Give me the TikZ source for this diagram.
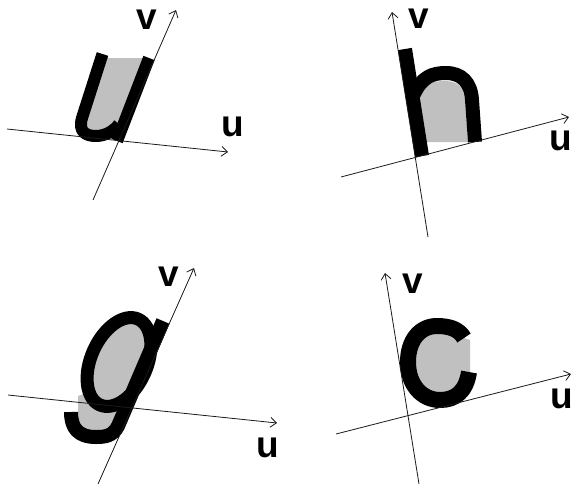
\documentclass[tikz,border=0pt]{standalone}
\usepackage{fontspec}
\setmainfont{Liberation Sans}
\usetikzlibrary{arrows.meta}
\definecolor{glyphfill}{HTML}{C0C0C0}
\definecolor{axisline}{HTML}{1A1A1A}
\newcommand{\axisname}[1]{\textbf{#1}}

\begin{document}
\begin{tikzpicture}[x=1pt, y=-1pt,
    axis/.style={draw=axisline, line width=0.8pt, -{Straight Barb[length=6pt, width=10pt]}},
    axislbl/.style={inner sep=0pt, font=\fontsize{37}{37}\selectfont},
    glyph/.style={draw=black, line width=#1, line join=round},
    bowl/.style={fill=glyphfill}]
    \path[use as bounding box, fill=white] (0,0) rectangle (572,493);

    % letter u
    \fill[bowl] (101,58) -- (149,58) -- (119,124) .. controls (115,130) and (106,136) .. (96,136)
        .. controls (86,136) and (79,132) .. (82,118) -- cycle;
    \draw[glyph=12pt] (102.5,54) -- (82,118) .. controls (78,132) and (86,136) .. (96,136)
        .. controls (106,136) and (115,130) .. (119,124);
    \draw[glyph=12pt] (149,58) -- (117,141);

    % letter h
    \fill[bowl] (421,142) -- (418,95) .. controls (425,84) and (433,81) .. (445,81)
        .. controls (458,81) and (464,88) .. (465,100) -- (468,142) -- cycle;
    \draw[glyph=14pt] (405,49) -- (422,156);
    \draw[glyph=14pt] (414,94) .. controls (422,77) and (432,73) .. (446,73)
        .. controls (462,73) and (471,83) .. (472,100) -- (475,142);

    % letter g
    \fill[bowl] (78,396) -- (145,372) -- (118,426) -- (96,437) -- (78,430) -- cycle;
    \filldraw[bowl, glyph=13pt, rotate around={66:(119,362)}] (119,362) ellipse [x radius=47, y radius=28];
    \draw[glyph=14pt] (163,321) -- (118,426) .. controls (113,436) and (105,437) .. (96,437)
        .. controls (78,437) and (71,428) .. (71,412);

    % letter c
    \fill[bowl] (464,338) .. controls (459,329) and (449,326) .. (437,326)
        .. controls (420,326) and (408,340) .. (408,362) .. controls (408,385) and (422,400) .. (440,400)
        .. controls (455,400) and (466,392) .. (469,372) -- (470,372) -- (470,340) -- cycle;
    \draw[glyph=16pt] (464,338) .. controls (459,329) and (449,326) .. (437,326)
        .. controls (420,326) and (408,340) .. (408,362) .. controls (408,385) and (422,400) .. (440,400)
        .. controls (455,400) and (466,392) .. (469,372);

    % axes
    \coordinate (uL1) at (7,129);   \coordinate (uR1) at (228,152);
    \coordinate (vB1) at (93,200);  \coordinate (vT1) at (176,10);
    \coordinate (uL2) at (341,177); \coordinate (uR2) at (569,117);
    \coordinate (vB2) at (428,237); \coordinate (vT2) at (392,12);
    \coordinate (uL3) at (8,395);   \coordinate (uR3) at (277,423);
    \coordinate (vB3) at (98,484);  \coordinate (vT3) at (194,268);
    \coordinate (uL4) at (336,434); \coordinate (uR4) at (571,374);
    \coordinate (vB4) at (419,484); \coordinate (vT4) at (385,273);
    \draw[axis] (uL1) -- (uR1);
    \draw[axis] (vB1) -- (vT1);
    \draw[axis] (uL2) -- (uR2);
    \draw[axis] (vB2) -- (vT2);
    \draw[axis] (uL3) -- (uR3);
    \draw[axis] (vB3) -- (vT3);
    \draw[axis] (uL4) -- (uR4);
    \draw[axis] (vB4) -- (vT4);

    \node[axislbl] (vl1) at (147,20) {\axisname{v}};
    \node[axislbl] (ul1) at (232.5,127) {\axisname{u}};
    \node[axislbl] (vl2) at (418.5,19) {\axisname{v}};
    \node[axislbl] (ul2) at (561,141) {\axisname{u}};
    \node[axislbl] (vl3) at (169,277) {\axisname{v}};
    \node[axislbl] (ul3) at (268,448) {\axisname{u}};
    \node[axislbl] (vl4) at (412.5,283.5) {\axisname{v}};
    \node[axislbl] (ul4) at (562,398.5) {\axisname{u}};
\end{tikzpicture}
\end{document}
